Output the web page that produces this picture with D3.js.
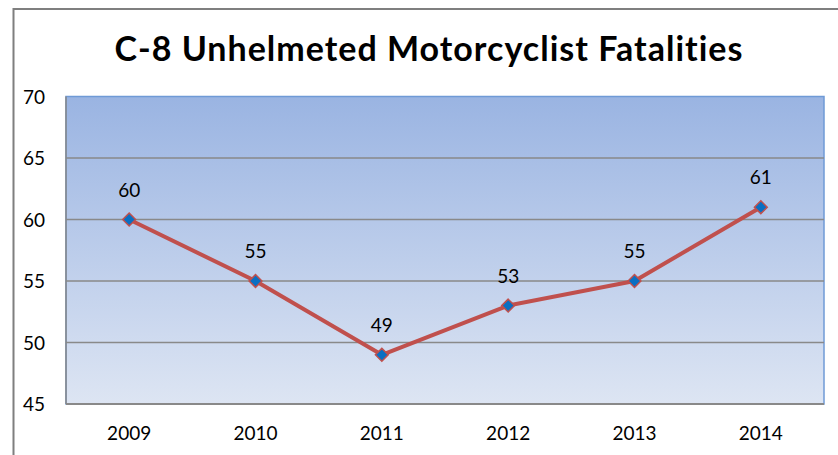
<!DOCTYPE html>
<html>
<head>
<meta charset="utf-8">
<script src="https://cdn.jsdelivr.net/npm/d3@7"></script>
<style>
  body { margin: 0; background: #fff; }
  svg text { font-family: Lato, "Open Sans", sans-serif; }
</style>
</head>
<body>
<svg id="chart" width="838" height="455"></svg>
<script>
var years = ["2009", "2010", "2011", "2012", "2013", "2014"];
var fatalities = [60, 55, 49, 53, 55, 61];
var yTicks = [45, 50, 55, 60, 65, 70];

var svg = d3.select("#chart");
var m = { left: 66, top: 96.5, right: 824, bottom: 404 };

// outer frame (runs off right/bottom edge)
svg.append("rect")
  .attr("x", 13.5).attr("y", 9)
  .attr("width", 900).attr("height", 500)
  .attr("fill", "#fff")
  .attr("stroke", "#7f7f7f")
  .attr("stroke-width", 2);

var defs = svg.append("defs");
var grad = defs.append("linearGradient")
  .attr("id", "bg").attr("x1", 0).attr("y1", 0).attr("x2", 0).attr("y2", 1);
grad.append("stop").attr("offset", "0%").attr("stop-color", "#9ab4e2");
grad.append("stop").attr("offset", "100%").attr("stop-color", "#dde5f3");

var x = d3.scaleBand().domain(years).range([m.left, m.right]);
var y = d3.scaleLinear().domain([45, 70]).range([m.bottom, m.top]);

svg.append("rect")
  .attr("x", m.left).attr("y", m.top)
  .attr("width", m.right - m.left).attr("height", m.bottom - m.top)
  .attr("fill", "url(#bg)")
  .attr("stroke", "#6f9ad6")
  .attr("stroke-width", 1.5);

// gridlines
svg.append("g").selectAll("line")
  .data(yTicks.slice(1, -1))
  .enter().append("line")
  .attr("x1", m.left).attr("x2", m.right)
  .attr("y1", function(d) { return y(d); })
  .attr("y2", function(d) { return y(d); })
  .attr("stroke", "#898989")
  .attr("stroke-width", 1.5);

// bottom and left axis lines
svg.append("line")
  .attr("x1", m.left).attr("x2", m.right)
  .attr("y1", m.bottom).attr("y2", m.bottom)
  .attr("stroke", "#898989").attr("stroke-width", 2);
svg.append("line")
  .attr("x1", m.left).attr("x2", m.left)
  .attr("y1", m.top).attr("y2", m.bottom)
  .attr("stroke", "#898989").attr("stroke-width", 1.5);

// y axis labels
svg.append("g").selectAll("text")
  .data(yTicks)
  .enter().append("text")
  .attr("x", 45)
  .attr("y", function(d) { return y(d) + 7; })
  .attr("text-anchor", "end")
  .attr("font-size", 19)
  .attr("fill", "#000")
  .text(function(d) { return d; });

// x axis labels
svg.append("g").selectAll("text")
  .data(years)
  .enter().append("text")
  .attr("x", function(d) { return x(d) + x.bandwidth() / 2; })
  .attr("y", 440)
  .attr("text-anchor", "middle")
  .attr("font-size", 19)
  .attr("fill", "#000")
  .text(function(d) { return d; });

// title
svg.append("text")
  .attr("x", 429).attr("y", 61)
  .attr("text-anchor", "middle")
  .attr("font-size", 34)
  .attr("font-weight", "bold")
  .attr("letter-spacing", 1)
  .attr("fill", "#000")
  .text("C-8 Unhelmeted Motorcyclist Fatalities");

var cx = function(d, i) { return x(years[i]) + x.bandwidth() / 2; };

var line = d3.line()
  .x(function(d, i) { return cx(d, i); })
  .y(function(d) { return y(d); });

svg.append("path")
  .datum(fatalities)
  .attr("d", line)
  .attr("fill", "none")
  .attr("stroke", "#c0504d")
  .attr("stroke-width", 4)
  .attr("stroke-linejoin", "round");

var diamond = d3.symbol().type(d3.symbolDiamond2).size(105);
svg.append("g").selectAll("path")
  .data(fatalities)
  .enter().append("path")
  .attr("d", diamond)
  .attr("transform", function(d, i) { return "translate(" + cx(d, i) + "," + y(d) + ")"; })
  .attr("fill", "#0a6fc2")
  .attr("stroke", "#c0504d")
  .attr("stroke-width", 1.5);

// data labels
svg.append("g").selectAll("text")
  .data(fatalities)
  .enter().append("text")
  .attr("x", function(d, i) { return cx(d, i); })
  .attr("y", function(d) { return y(d) - 23; })
  .attr("text-anchor", "middle")
  .attr("font-size", 19)
  .attr("fill", "#000")
  .text(function(d) { return d; });
</script>
</body>
</html>
